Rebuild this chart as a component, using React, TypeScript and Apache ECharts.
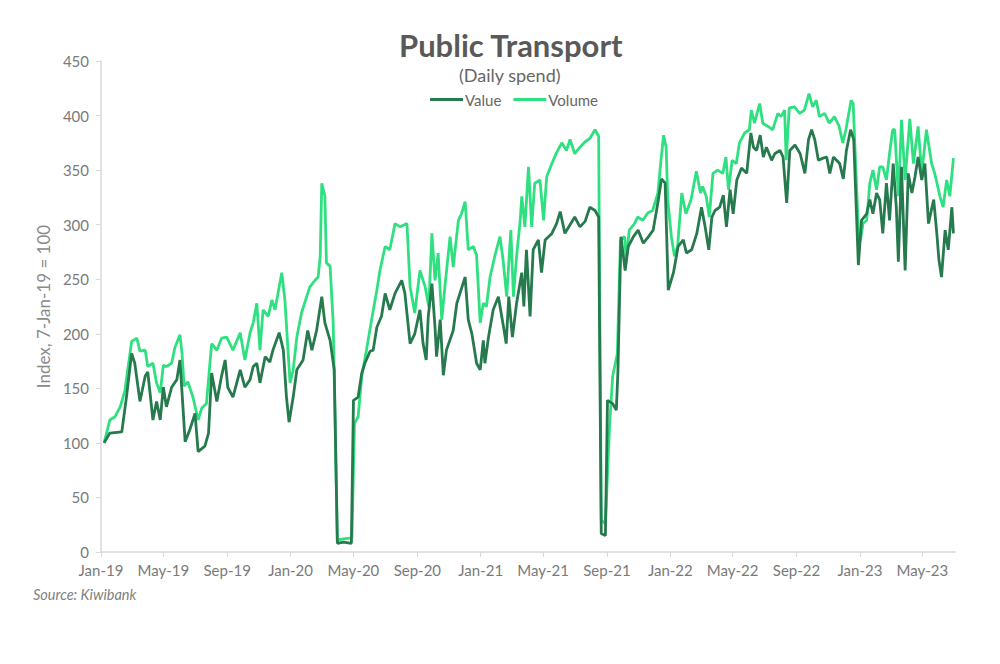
import React, { useEffect, useRef } from "react";
import * as echarts from "echarts";

const xTickDates = ["2019-01-01","2019-05-01","2019-09-01","2020-01-01","2020-05-01","2020-09-01","2021-01-01","2021-05-01","2021-09-01","2022-01-01","2022-05-01","2022-09-01","2023-01-01","2023-05-01"];
const xTickLabels = ["Jan-19","May-19","Sep-19","Jan-20","May-20","Sep-20","Jan-21","May-21","Sep-21","Jan-22","May-22","Sep-22","Jan-23","May-23"];
const yTicks = [0, 50, 100, 150, 200, 250, 300, 350, 400, 450];

const valueDates = [
"2019-01-07","2019-01-18","2019-02-10","2019-02-19","2019-03-01","2019-03-07","2019-03-17","2019-03-27","2019-04-01","2019-04-11","2019-04-18","2019-04-25","2019-05-01","2019-05-07","2019-05-17","2019-05-27","2019-06-02","2019-06-06","2019-06-12","2019-06-21","2019-07-01","2019-07-07","2019-07-20","2019-07-27","2019-08-02","2019-08-12","2019-08-21","2019-08-28","2019-09-02","2019-09-12","2019-09-26","2019-10-05","2019-10-15","2019-10-21","2019-10-28","2019-11-03","2019-11-13","2019-11-22","2019-11-28","2019-12-10","2019-12-18","2019-12-24","2019-12-29",
"2020-01-06","2020-01-13","2020-01-25","2020-02-03","2020-02-11","2020-02-20","2020-03-01","2020-03-07","2020-03-17","2020-03-25","2020-03-31","2020-04-12","2020-04-27","2020-05-01","2020-05-10","2020-05-17","2020-05-23","2020-06-02","2020-06-08","2020-06-15","2020-06-24","2020-07-01","2020-07-10","2020-07-20","2020-08-02","2020-08-08","2020-08-18","2020-08-27","2020-09-06","2020-09-12","2020-09-18","2020-09-22","2020-09-29","2020-10-05","2020-10-08","2020-10-15","2020-10-21","2020-10-27","2020-11-09","2020-11-16","2020-11-22","2020-12-02","2020-12-08","2020-12-15","2020-12-24","2020-12-31",
"2021-01-06","2021-01-09","2021-01-16","2021-01-25","2021-02-04","2021-02-14","2021-02-19","2021-02-24","2021-03-03","2021-03-11","2021-03-21","2021-03-25","2021-03-30","2021-04-06","2021-04-12","2021-04-22","2021-04-28","2021-05-05","2021-05-18","2021-05-27","2021-06-03","2021-06-12","2021-06-22","2021-07-01","2021-07-11","2021-07-21","2021-07-30","2021-08-09","2021-08-16","2021-08-21","2021-08-29","2021-09-02","2021-09-12","2021-09-19","2021-09-22","2021-09-28","2021-10-06","2021-10-12","2021-10-22","2021-10-31","2021-11-10","2021-11-20","2021-11-29","2021-12-09","2021-12-15","2021-12-22","2021-12-28",
"2022-01-07","2022-01-16","2022-01-26","2022-02-01","2022-02-11","2022-02-21","2022-03-02","2022-03-09","2022-03-16","2022-03-22","2022-03-28","2022-04-06","2022-04-13","2022-04-19","2022-04-26","2022-05-02","2022-05-09","2022-05-18","2022-05-28","2022-06-05","2022-06-10","2022-06-16","2022-06-23","2022-06-29","2022-07-05","2022-07-15","2022-07-21","2022-07-31","2022-08-06","2022-08-13","2022-08-19","2022-08-29","2022-09-08","2022-09-17","2022-09-24","2022-09-30","2022-10-06","2022-10-13","2022-10-22","2022-10-29","2022-11-04","2022-11-11","2022-11-17","2022-11-23","2022-11-30","2022-12-06","2022-12-14","2022-12-20","2022-12-29",
"2023-01-04","2023-01-14","2023-01-20","2023-01-26","2023-02-02","2023-02-08","2023-02-14","2023-02-21","2023-02-27","2023-03-06","2023-03-12","2023-03-16","2023-03-22","2023-03-29","2023-04-04","2023-04-11","2023-04-17","2023-04-23","2023-04-30","2023-05-06","2023-05-13","2023-05-23","2023-05-29","2023-06-02","2023-06-07","2023-06-14","2023-06-20","2023-06-27","2023-06-30"
];
const valueIndex = [
100,109,110,142,182,173,138,161,165,121,138,121,151,133,151,158,176,146,101,112,127,92,97,109,164,138,161,176,151,142,167,151,158,170,173,155,179,174,185,201,185,142,119,
142,167,176,203,185,203,234,210,194,167,8,9,8,139,142,164,173,184,185,206,216,237,222,237,249,237,191,200,222,191,176,216,246,206,179,213,162,185,203,228,237,252,213,200,173,167,
194,173,197,222,234,206,191,234,197,228,256,225,277,216,277,286,256,286,292,301,312,292,300,307,298,303,316,313,307,17,15,139,136,130,164,289,258,280,289,295,283,289,295,323,342,338,240,
256,280,286,274,277,292,316,298,277,307,313,316,327,298,332,310,341,352,347,384,371,368,382,362,371,359,365,368,362,320,368,373,365,347,378,387,378,359,361,362,347,362,359,356,342,368,387,378,263,
304,310,323,310,329,323,292,338,304,356,316,266,353,258,347,329,344,362,341,356,301,323,292,268,252,295,277,316,292
];

const volumeDates = [
"2019-01-07","2019-01-18","2019-01-28","2019-02-07","2019-02-16","2019-03-01","2019-03-11","2019-03-17","2019-03-27","2019-04-01","2019-04-11","2019-04-18","2019-04-25","2019-05-01","2019-05-07","2019-05-17","2019-05-23","2019-06-02","2019-06-06","2019-06-10","2019-06-17","2019-06-27","2019-07-07","2019-07-14","2019-07-23","2019-08-02","2019-08-12","2019-08-21","2019-08-31","2019-09-12","2019-09-26","2019-10-05","2019-10-15","2019-10-21","2019-10-28","2019-11-03","2019-11-09","2019-11-19","2019-11-26","2019-12-02","2019-12-10","2019-12-15","2019-12-21","2019-12-27","2019-12-31",
"2020-01-06","2020-01-13","2020-01-22","2020-02-01","2020-02-07","2020-02-17","2020-02-23","2020-02-27","2020-03-01","2020-03-07","2020-03-10","2020-03-17","2020-03-23","2020-03-31","2020-04-12","2020-04-28","2020-05-03","2020-05-10","2020-05-17","2020-05-26","2020-06-05","2020-06-15","2020-06-21","2020-07-01","2020-07-10","2020-07-20","2020-07-30","2020-08-12","2020-08-18","2020-08-27","2020-09-06","2020-09-16","2020-09-23","2020-09-29","2020-10-05","2020-10-11","2020-10-18","2020-10-24","2020-11-03","2020-11-09","2020-11-19","2020-11-25","2020-12-02","2020-12-08","2020-12-18","2020-12-24","2020-12-31",
"2021-01-06","2021-01-12","2021-01-19","2021-01-28","2021-02-07","2021-02-13","2021-02-20","2021-02-28","2021-03-05","2021-03-11","2021-03-18","2021-03-21","2021-03-27","2021-04-03","2021-04-09","2021-04-15","2021-04-25","2021-05-02","2021-05-08","2021-05-18","2021-05-27","2021-06-06","2021-06-15","2021-06-22","2021-07-01","2021-07-11","2021-07-21","2021-07-30","2021-08-09","2021-08-16","2021-08-21","2021-08-29","2021-09-06","2021-09-12","2021-09-21","2021-09-27","2021-10-05","2021-10-08","2021-10-14","2021-10-24","2021-10-30","2021-11-09","2021-11-19","2021-11-28","2021-12-08","2021-12-14","2021-12-19","2021-12-24","2021-12-27",
"2022-01-03","2022-01-09","2022-01-15","2022-01-23","2022-01-31","2022-02-10","2022-02-20","2022-02-28","2022-03-04","2022-03-11","2022-03-17","2022-03-24","2022-04-02","2022-04-12","2022-04-18","2022-04-23","2022-04-30","2022-05-08","2022-05-14","2022-05-24","2022-06-02","2022-06-06","2022-06-12","2022-06-22","2022-06-28","2022-07-08","2022-07-17","2022-07-27","2022-08-02","2022-08-09","2022-08-12","2022-08-18","2022-08-28","2022-09-07","2022-09-16","2022-09-25","2022-10-02","2022-10-09","2022-10-15","2022-10-25","2022-11-03","2022-11-13","2022-11-22","2022-11-29","2022-12-05","2022-12-15","2022-12-19","2022-12-30",
"2023-01-02","2023-01-07","2023-01-14","2023-01-20","2023-01-26","2023-02-02","2023-02-08","2023-02-14","2023-02-21","2023-02-27","2023-03-05","2023-03-09","2023-03-16","2023-03-22","2023-03-29","2023-04-07","2023-04-14","2023-04-23","2023-04-30","2023-05-09","2023-05-19","2023-05-25","2023-06-04","2023-06-10","2023-06-17","2023-06-23","2023-06-30"
];
const volumeIndex = [
100,121,124,133,148,193,196,184,185,170,173,155,146,171,170,173,187,199,182,152,156,142,121,132,136,191,185,196,197,185,201,176,201,210,228,185,222,216,231,222,243,256,231,185,155,
167,197,219,234,243,249,252,271,338,326,265,262,210,11,12,13,118,124,161,185,213,240,258,280,277,301,298,301,243,219,258,243,225,292,249,274,213,243,289,261,304,310,321,277,280,272,210,
228,225,252,271,289,268,234,295,234,271,304,326,298,353,298,338,341,304,344,356,366,375,368,378,365,371,376,379,387,381,29,26,115,161,182,286,289,268,295,301,307,304,311,313,329,359,382,371,323,
289,271,280,329,310,323,349,329,335,326,307,347,350,347,362,332,359,356,375,384,387,405,393,411,393,390,387,402,399,405,359,407,408,402,405,420,408,414,399,402,393,399,390,375,387,414,411,283,
286,301,304,338,350,332,353,353,341,365,387,387,326,396,341,397,356,390,347,387,356,347,326,316,341,326,361
];

const BASE = Date.UTC(2019, 0, 1);
const dayOf = (s: string) => {
  const [y, m, d] = s.split("-").map(Number);
  return (Date.UTC(y, m - 1, d) - BASE) / 86400000;
};

const FONT = "Lato, 'Open Sans', sans-serif";
const VALUE_COLOR = "#267a4e";
const VOLUME_COLOR = "#2fe080";

export default function App() {
  const ref = useRef<HTMLDivElement>(null);
  useEffect(() => {
    document.body.style.margin = "0";
    const chart = echarts.init(ref.current!, null, { renderer: "svg" });
    const tickDays = xTickDates.map(dayOf);
    const labelMap = new Map<number, string>();
    tickDays.forEach((d, i) => labelMap.set(d, xTickLabels[i]));
    const valueData = valueDates.map((d, i) => [dayOf(d), valueIndex[i]]);
    const volumeData = volumeDates.map((d, i) => [dayOf(d), volumeIndex[i]]);
    chart.setOption({
      animation: false,
      backgroundColor: "#ffffff",
      textStyle: { fontFamily: FONT },
      grid: { left: 101, right: 45, top: 61, bottom: 112 },
      legend: {
        data: ["Value", "Volume"],
        left: 425,
        top: 87,
        icon: "rect",
        itemWidth: 33,
        itemHeight: 3,
        itemGap: 12,
        textStyle: { fontSize: 15, color: "#666666", fontFamily: FONT, padding: [0, 0, 0, -3] },
      },
      xAxis: {
        type: "value",
        min: 0,
        max: 1644,
        axisLine: { show: true, lineStyle: { color: "#d9d9d9", width: 1.5 } },
        axisTick: { show: true, customValues: tickDays, length: 5, lineStyle: { color: "#d9d9d9" } },
        axisLabel: {
          customValues: tickDays,
          formatter: (v: number) => labelMap.get(v) ?? "",
          color: "#7a7a7a",
          fontSize: 15,
          margin: 10,
          fontFamily: FONT,
        },
        splitLine: { show: false },
      },
      yAxis: {
        type: "value",
        min: yTicks[0],
        max: yTicks[yTicks.length - 1],
        interval: 50,
        name: "Index, 7-Jan-19 = 100",
        nameLocation: "middle",
        nameGap: 32,
        nameTextStyle: { color: "#8a8a8a", fontSize: 17, fontFamily: FONT },
        axisLine: { show: true, lineStyle: { color: "#d9d9d9", width: 1.5 } },
        axisTick: { show: true, length: 5, lineStyle: { color: "#d9d9d9" } },
        axisLabel: { color: "#7a7a7a", fontSize: 15, margin: 12, fontFamily: FONT },
        splitLine: { show: false },
      },
      series: [
        {
          name: "Volume",
          type: "line",
          data: volumeData,
          showSymbol: false,
          color: VOLUME_COLOR,
          lineStyle: { width: 2.8, color: VOLUME_COLOR },
          z: 2,
        },
        {
          name: "Value",
          type: "line",
          data: valueData,
          showSymbol: false,
          color: VALUE_COLOR,
          lineStyle: { width: 2.8, color: VALUE_COLOR },
          z: 3,
        },
      ],
      graphic: [
        {
          type: "text",
          left: 399,
          top: 29,
          style: { text: "Public Transport", font: `bold 31px ${FONT}`, fill: "#595959" },
        },
        {
          type: "text",
          left: 459,
          top: 66,
          style: { text: "(Daily spend)", font: `18px ${FONT}`, fill: "#666666" },
        },
        {
          type: "text",
          left: 33,
          top: 587,
          style: { text: "Source: Kiwibank", font: `italic 14.5px ${FONT}`, fill: "#7f7f7f" },
        },
      ],
    });
    return () => chart.dispose();
  }, []);
  return <div ref={ref} style={{ width: 1000, height: 664 }} />;
}
